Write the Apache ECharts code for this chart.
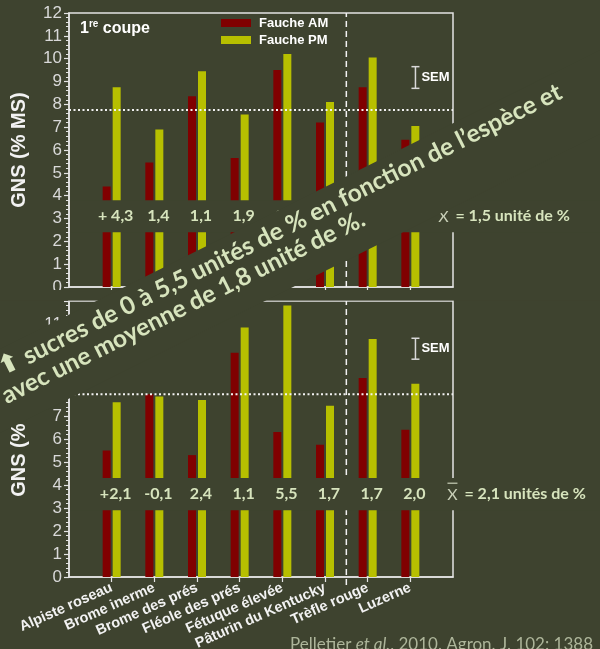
<!DOCTYPE html>
<html>
<head>
<meta charset="utf-8">
<script src="https://cdn.jsdelivr.net/npm/echarts@6/dist/echarts.min.js"></script>
<style>
  html, body { margin: 0; padding: 0; background: #3e432f; }
  #c { width: 600px; height: 649px; }
</style>
</head>
<body>
<div id="c"></div>
<script>
// Species (grasses first, then legumes)
const species = ['Alpiste roseau', 'Brome inerme', 'Brome des prés', 'Fléole des prés',
                 'Fétuque élevée', 'Pâturin du Kentucky', 'Trèfle rouge', 'Luzerne'];

// 1st cut – non-structural carbohydrates (% DM), morning vs afternoon mowing
const cut1AM = [4.4, 5.45, 8.35, 5.65, 9.5, 7.2, 8.75, 6.45];
const cut1PM = [8.75, 6.9, 9.45, 7.55, 10.2, 8.1, 10.05, 7.05];
const cut1Diff = ['+ 4,3', '1,4', '1,1', '1,9', '0,7', '0,9', '1,3', '0,6'];
const cut1Mean = 7.75;
const cut1MeanText = '= 1,5 unité de %';
const cut1Sem = [8.7, 9.65];

// 2nd panel
const cut2AM = [5.5, 7.95, 5.3, 9.75, 6.3, 5.75, 8.65, 6.4];
const cut2PM = [7.6, 7.85, 7.7, 10.85, 11.8, 7.45, 10.35, 8.4];
const cut2Diff = ['+2,1', '-0,1', '2,4', '1,1', '5,5', '1,7', '1,7', '2,0'];
const cut2Mean = 7.95;
const cut2MeanText = '= 2,1 unités de %';
const cut2Sem = [9.47, 10.38];

// y scale and the value bands kept clear for the difference labels
const yRange = [0, 12];
const band1 = [2.4, 3.8];
const band2 = [2.9, 4.3];

const overlayLine1 = ' sucres de 0 à 5,5 unités de % en fonction de l’espèce et';
const overlayLine2 = 'avec une moyenne de 1,8 unité de %.';
const citation = ['Pelletier ', 'et al.', ', 2010. Agron. J. 102: 1388'];

const BG = '#3e432f';
const RED = '#800000';
const YEL = '#b7bf00';
const LINE = '#e4e4e4';
const PALE = '#d7e4bd';

// categories padded with an empty slot on each side
const cats = [''].concat(species, ['']);
const pad = arr => ['-'].concat(arr, ['-']);

function yAx(gridIndex, showMax) {
  return {
    type: 'value', gridIndex, min: yRange[0], max: yRange[1], interval: 1,
    axisLine: { show: true, lineStyle: { color: LINE, width: 1.5 } },
    axisTick: { show: true, length: 5, lineStyle: { color: LINE, width: 1.2 } },
    minorTick: { show: true, splitNumber: 5, length: 3, lineStyle: { color: LINE, width: 1 } },
    splitLine: { show: false },
    axisLabel: { color: '#d9d9d9', fontSize: 17, fontFamily: 'Liberation Sans', margin: 7, showMaxLabel: showMax },
    name: 'GNS (% MS)', nameLocation: 'middle', nameGap: 40,
    nameTextStyle: { color: '#f2f2f2', fontSize: 20, fontWeight: 'bold', fontFamily: 'Liberation Sans' }
  };
}
function xCat(gridIndex, showLabels) {
  return {
    type: 'category', gridIndex, data: cats, boundaryGap: false,
    axisLine: { show: true, lineStyle: { color: LINE, width: 1.5 } },
    axisTick: { show: true, length: 5, interval: (i, v) => v !== '', lineStyle: { color: LINE, width: 1.2 } },
    axisLabel: {
      show: showLabels, interval: 0, rotate: 24, color: '#f2f2f2', fontSize: 14.5,
      fontWeight: 'bold', fontFamily: 'Liberation Sans', margin: 10
    },
    splitLine: { show: false }
  };
}
function xVal(gridIndex) {
  return { type: 'value', gridIndex, min: 0, max: cats.length - 1, show: false };
}

// divider between grasses and legumes, overall mean line, SEM bracket
function guides(params, api) {
  const dx = api.value(0), m = api.value(1), sx = api.value(2), lo = api.value(3), hi = api.value(4);
  const ext = api.value(5);
  const a = api.coord([dx, yRange[0]]), b = api.coord([dx, yRange[1]]);
  const m0 = api.coord([0, m]), m1 = api.coord([cats.length - 1, m]);
  const s0 = api.coord([sx, lo]), s1 = api.coord([sx, hi]);
  return {
    type: 'group',
    children: [
      { type: 'line', shape: { x1: a[0], y1: a[1] + ext, x2: b[0], y2: b[1] },
        style: { stroke: '#f2f2f2', lineWidth: 1.5, lineDash: [6, 4] } },
      { type: 'line', shape: { x1: m0[0], y1: m0[1], x2: m1[0], y2: m1[1] },
        style: { stroke: '#f2f2f2', lineWidth: 2, lineDash: [2, 2.5] } },
      { type: 'line', shape: { x1: s0[0], y1: s0[1], x2: s1[0], y2: s1[1] },
        style: { stroke: '#d9d9d9', lineWidth: 1.5 } },
      { type: 'line', shape: { x1: s0[0] - 4, y1: s0[1], x2: s0[0] + 4, y2: s0[1] },
        style: { stroke: '#d9d9d9', lineWidth: 1.5 } },
      { type: 'line', shape: { x1: s1[0] - 4, y1: s1[1], x2: s1[0] + 4, y2: s1[1] },
        style: { stroke: '#d9d9d9', lineWidth: 1.5 } },
      { type: 'text', x: s0[0] + 6, y: (s0[1] + s1[1]) / 2,
        style: { text: 'SEM', fill: '#ffffff', font: 'bold 13px "Liberation Sans"', verticalAlign: 'middle' } }
    ]
  };
}

const dividerX = 6.5;
const semX = 8.12;

const option = {
  animation: false,
  backgroundColor: BG,
  title: {
    text: '{a|1}{s|re}{a| coupe}', left: 75, top: 14,
    textStyle: {
      rich: {
        a: { fontSize: 16, fontWeight: 'bold', color: '#ffffff', fontFamily: 'Liberation Sans', lineHeight: 20 },
        s: { fontSize: 10, fontWeight: 'bold', color: '#ffffff', fontFamily: 'Liberation Sans', lineHeight: 20, verticalAlign: 'top', padding: [0, 0, 6, 0] }
      }
    }
  },
  legend: {
    data: ['Fauche AM', 'Fauche PM'], orient: 'vertical', left: 216, top: 11,
    itemWidth: 30, itemHeight: 8, itemGap: 3, icon: 'rect',
    textStyle: { color: '#ffffff', fontWeight: 'bold', fontSize: 13, fontFamily: 'Liberation Sans', lineHeight: 14, padding: [0, 0, 0, 3] }
  },
  grid: [
    { left: 69, right: 147, top: 13, height: 274, show: true, borderColor: LINE, borderWidth: 1.5, outerBoundsMode: 'none' },
    { left: 69, right: 147, top: 301, height: 276, show: true, borderColor: LINE, borderWidth: 1.5, outerBoundsMode: 'none' }
  ],
  xAxis: [xCat(0, false), xCat(1, true), xVal(0), xVal(1)],
  yAxis: [yAx(0, true), yAx(1, false)],
  series: [
    { type: 'bar', name: 'Fauche AM', xAxisIndex: 0, yAxisIndex: 0, data: pad(cut1AM), barWidth: 8, barGap: '25%', itemStyle: { color: RED } },
    { type: 'bar', name: 'Fauche PM', xAxisIndex: 0, yAxisIndex: 0, data: pad(cut1PM), barWidth: 8, barGap: '25%', itemStyle: { color: YEL } },
    { type: 'bar', name: 'Fauche AM', xAxisIndex: 1, yAxisIndex: 1, data: pad(cut2AM), barWidth: 8, barGap: '25%', itemStyle: { color: RED } },
    { type: 'bar', name: 'Fauche PM', xAxisIndex: 1, yAxisIndex: 1, data: pad(cut2PM), barWidth: 8, barGap: '25%', itemStyle: { color: YEL } },
    { type: 'custom', xAxisIndex: 2, yAxisIndex: 0, renderItem: guides, z: 3,
      data: [[dividerX, cut1Mean, semX, cut1Sem[0], cut1Sem[1], 0]] },
    { type: 'custom', xAxisIndex: 3, yAxisIndex: 1, renderItem: guides, z: 3,
      data: [[dividerX, cut2Mean, semX, cut2Sem[0], cut2Sem[1], 8]] }
  ]
};

const chart = echarts.init(document.getElementById('c'), null, { renderer: 'canvas', width: 600, height: 649 });
chart.setOption(option);

const px = (xi, v) => chart.convertToPixel({ xAxisIndex: xi }, v);
const py = (yi, v) => chart.convertToPixel({ yAxisIndex: yi }, v);

const g = [];
// strip between the two panels
g.push({ type: 'rect', z: 50, shape: { x: 0, y: py(0, 0) + 3, width: 600, height: py(1, yRange[1]) - py(0, 0) - 3.5 }, style: { fill: BG } });

function labelBand(xi, yi, band, diffs, meanText) {
  const yTop = py(yi, band[1]), yBot = py(yi, band[0]);
  const yMid = (yTop + yBot) / 2;
  g.push({ type: 'rect', z: 50, shape: { x: 70.5, y: yTop, width: 540, height: yBot - yTop }, style: { fill: BG } });
  diffs.forEach((t, i) => {
    g.push({ type: 'text', z: 51, x: px(xi, i + 1) + 4, y: yMid,
      style: { text: t, fill: PALE, font: 'bold 16px Lato', align: 'center', verticalAlign: 'middle' } });
  });
  const xx = px(xi, semX) + (xi === 2 ? 28 : 37);
  g.push({ type: 'text', z: 51, x: xx, y: yMid + 1,
    style: { text: 'X', fill: '#c9d0b8', font: '16px Lato', align: 'center', verticalAlign: 'middle' } });
  g.push({ type: 'line', z: 51, shape: { x1: xx - 5, y1: yMid - 11, x2: xx + 5, y2: yMid - 11 }, style: { stroke: '#c9d0b8', lineWidth: 1.2 } });
  g.push({ type: 'text', z: 51, x: xx + 12, y: yMid,
    style: { text: meanText, fill: PALE, font: 'bold 16px Lato', align: 'left', verticalAlign: 'middle' } });
}
labelBand(2, 0, band1, cut1Diff, cut1MeanText);
labelBand(3, 1, band2, cut2Diff, cut2MeanText);

// slanted caption across both panels
const TH = 26.5 * Math.PI / 180;
g.push({
  type: 'group', x: 300, y: 241.5, rotation: TH, z: 100,
  children: [
    { type: 'rect', z: 100, shape: { x: -560, y: -37.6, width: 1120, height: 75.2 }, style: { fill: BG } },
    { type: 'text', z: 101, x: -326, y: -19,
      style: { text: '{ar|⬆}' + overlayLine1, fill: PALE, font: 'bold 24.6px Lato', verticalAlign: 'middle',
        rich: { ar: { fontFamily: 'DejaVu Sans', fontWeight: 'bold', fontSize: 26, fill: PALE } } } },
    { type: 'text', z: 101, x: -335, y: 6.8,
      style: { text: overlayLine2, fill: PALE, font: 'bold 24.5px Lato', verticalAlign: 'middle' } }
  ]
});

// reference
g.push({ type: 'text', z: 100, x: 593, y: 645,
  style: { text: '{n|' + citation[0] + '}{i|' + citation[1] + '}{n|' + citation[2] + '}',
    align: 'right', verticalAlign: 'middle',
    rich: { n: { font: '17px Lato', fill: '#adb59a' }, i: { font: 'italic 17px Lato', fill: '#adb59a' } } } });

chart.setOption({ graphic: g });
</script>
</body>
</html>
